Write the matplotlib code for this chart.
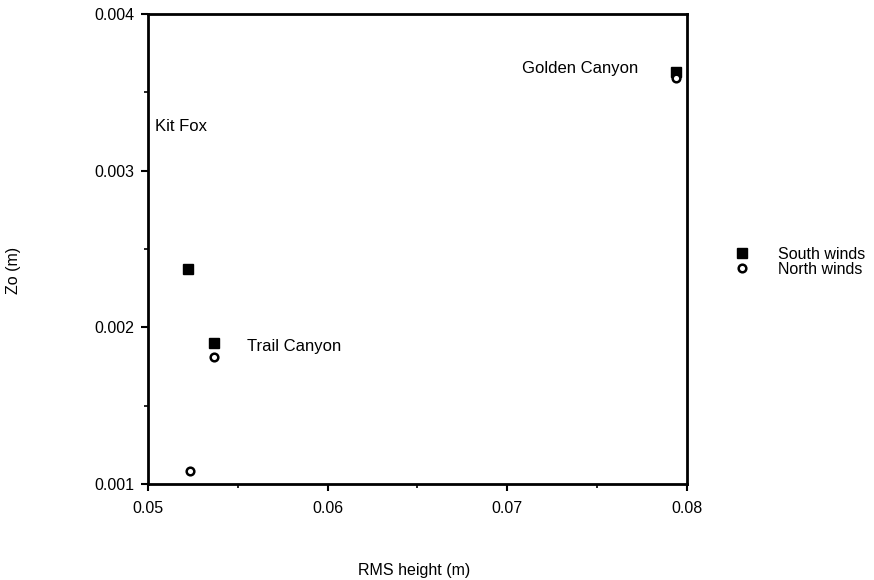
import matplotlib
matplotlib.use("Agg")
import matplotlib.pyplot as plt
from matplotlib.ticker import MultipleLocator

plt.rcParams["font.family"] = ["Liberation Sans", "DejaVu Sans"]

# RMS height (m) and roughness length Zo (m) per site
sites = ["Kit Fox", "Trail Canyon", "Golden Canyon"]
rms_south = [0.05222, 0.05367, 0.07939]
zo_south = [0.00237, 0.00190, 0.00363]
rms_north = [0.05233, 0.05367, 0.07939]
zo_north = [0.00108, 0.00181, 0.00359]

# label anchor points (data coords)
label_x = [0.0504, 0.0555, 0.0708]
label_y = [0.00328, 0.001875, 0.00365]

fig = plt.figure(figsize=(8.74, 5.80), dpi=100)
ax = fig.add_axes([0.1693, 0.1655, 0.6167, 0.8104])

ax.plot(rms_south, zo_south, "s", color="black", markersize=7, label="South winds", clip_on=False)
ax.plot(rms_north, zo_north, "o", markerfacecolor="white", markeredgecolor="black",
        markeredgewidth=1.8, markersize=5.5, label="North winds", clip_on=False)

for name, x, y in zip(sites, label_x, label_y):
    ax.text(x, y, name, fontsize=12, ha="left", va="center")

ax.set_xlim(0.05, 0.08)
ax.set_ylim(0.001, 0.004)
ax.set_xticks([0.05, 0.06, 0.07, 0.08])
ax.set_xticklabels(["0.05", "0.06", "0.07", "0.08"])
ax.set_yticks([0.001, 0.002, 0.003, 0.004])
ax.set_yticklabels(["0.001", "0.002", "0.003", "0.004"])
ax.xaxis.set_minor_locator(MultipleLocator(0.005))
ax.yaxis.set_minor_locator(MultipleLocator(0.0005))
ax.tick_params(which="major", direction="out", length=5, width=1.5, labelsize=11.5, pad=5)
ax.tick_params(axis="x", which="major", pad=7)
ax.tick_params(which="minor", direction="out", length=3, width=1.2)

for s in ax.spines.values():
    s.set_linewidth(2)

ax.set_xlabel("RMS height (m)", fontsize=11.5, va="center")
ax.set_ylabel("Zo (m)", fontsize=11.5, va="center")
ax.xaxis.set_label_coords(0.4935, -0.183)
ax.yaxis.set_label_coords(-0.249, 0.455)

ax.legend(loc="center left", bbox_to_anchor=(1.06, 0.473), frameon=False, fontsize=11.5,
          handletextpad=1.8, labelspacing=0.0, handlelength=1.0)

fig.savefig("out.png", dpi=100)
